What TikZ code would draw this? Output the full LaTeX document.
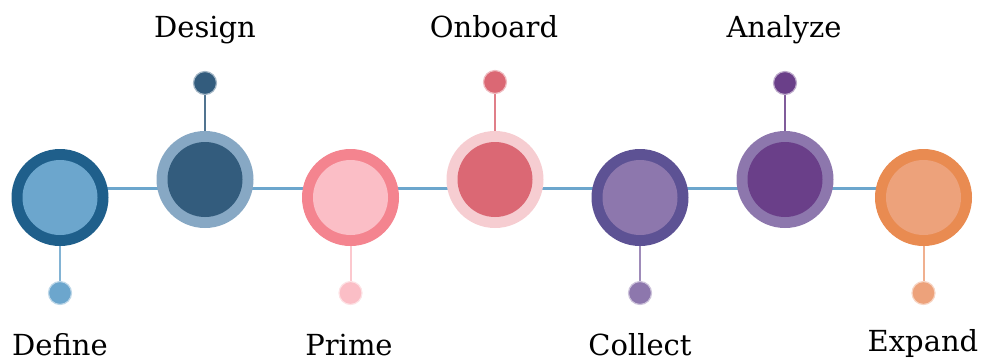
\documentclass[tikz,border=0pt]{standalone}
\usepackage{fontspec}
\setmainfont{DejaVu Serif}
\usetikzlibrary{backgrounds}
\definecolor{lineblue}{HTML}{6CA6CD}
\definecolor{aO}{HTML}{1F5F8B}\definecolor{aI}{HTML}{6CA6CD}
\definecolor{bO}{HTML}{87A8C4}\definecolor{bI}{HTML}{335C7D}
\definecolor{cO}{HTML}{F4848F}\definecolor{cI}{HTML}{FBBEC6}
\definecolor{dO}{HTML}{F6CDD1}\definecolor{dI}{HTML}{DB6874}
\definecolor{eO}{HTML}{5D5294}\definecolor{eI}{HTML}{8D77AD}
\definecolor{fO}{HTML}{8D77AD}\definecolor{fI}{HTML}{6A3F89}
\definecolor{gO}{HTML}{E98B51}\definecolor{gI}{HTML}{EDA27B}
\tikzset{
  outerc/.style={circle, fill=#1, minimum size=97pt, inner sep=0pt},
  innerc/.style={circle, fill=#1, minimum size=75pt, inner sep=0pt},
  dotc/.style={circle, fill=#1, draw=#1!45, line width=1.2pt, minimum size=23pt, inner sep=0pt},
  stem/.style={draw=#1, draw opacity=0.85, line width=2pt},
  lbl/.style={font=\fontsize{29}{34}\selectfont, text=black, inner sep=0pt, anchor=base, text depth=0pt},
}
\begin{document}
\begin{tikzpicture}[x=1pt,y=-1pt]
\useasboundingbox (0,0) rectangle (983,360);
% main circles
\node[outerc=aO] (c1) at (60,197.5) {};
\node[innerc=aI] (i1) at (c1) {};
\node[outerc=bO] (c2) at (205,179.5) {};
\node[innerc=bI] (i2) at (c2) {};
\node[outerc=cO] (c3) at (350.5,197.5) {};
\node[innerc=cI] (i3) at (c3) {};
\node[outerc=dO] (c4) at (495,179.5) {};
\node[innerc=dI] (i4) at (c4) {};
\node[outerc=eO] (c5) at (640,197.5) {};
\node[innerc=eI] (i5) at (c5) {};
\node[outerc=fO] (c6) at (785,179.5) {};
\node[innerc=fI] (i6) at (c6) {};
\node[outerc=gO] (c7) at (923.5,197.5) {};
\node[innerc=gI] (i7) at (c7) {};
\coordinate (ls) at (60,188.5);
\coordinate (le) at (923.5,188.5);
% dots
\node[dotc=aI] (d1) at (60,293) {};
\node[dotc=bI] (d2) at (205,83) {};
\node[dotc=cI] (d3) at (350.5,293) {};
\node[dotc=dI] (d4) at (495,82) {};
\node[dotc=eI] (d5) at (640,293) {};
\node[dotc=fI] (d6) at (785,83) {};
\node[dotc=gI] (d7) at (923.5,293) {};
% labels
\node[lbl] (l1) at (60,355) {Define};
\node[lbl] (l2) at (205,37.5) {Design};
\node[lbl] (l3) at (349,355) {Prime};
\node[lbl] (l4) at (494,37.5) {Onboard};
\node[lbl] (l5) at (640,355) {Collect};
\node[lbl] (l6) at (784,37.5) {Analyze};
\node[lbl] (l7) at (923,351) {Expand};
\begin{pgfonlayer}{background}
\draw[draw=lineblue, line width=3.5pt] (ls) -- (le);
\draw[stem=aI] (c1.south) -- (d1.center);
\draw[stem=bI] (c2.north) -- (d2.center);
\draw[stem=cI] (c3.south) -- (d3.center);
\draw[stem=dI] (c4.north) -- (d4.center);
\draw[stem=eI] (c5.south) -- (d5.center);
\draw[stem=fI] (c6.north) -- (d6.center);
\draw[stem=gI] (c7.south) -- (d7.center);
\end{pgfonlayer}
\end{tikzpicture}
\end{document}
